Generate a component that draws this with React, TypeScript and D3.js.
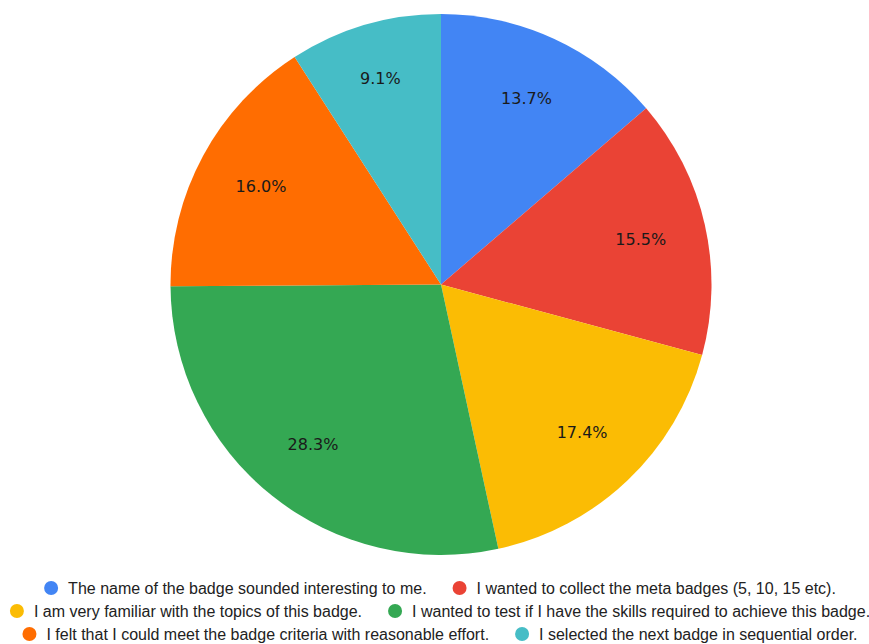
import React from "react";
import * as d3 from "d3";

const categories = [
  "The name of the badge sounded interesting to me.",
  "I wanted to collect the meta badges (5, 10, 15 etc).",
  "I am very familiar with the topics of this badge.",
  "I wanted to test if I have the skills required to achieve this badge.",
  "I felt that I could meet the badge criteria with reasonable effort.",
  "I selected the next badge in sequential order.",
];
const values = [13.7, 15.5, 17.4, 28.3, 16.0, 9.1];
const colors = ["#4285F4", "#EA4335", "#FBBC04", "#34A853", "#FF6D01", "#46BDC6"];
const legendRows = [[0, 1], [2, 3], [4, 5]];

const W = 869;
const H = 644;
const cx = 441;
const cy = 284.5;
const R = 270.5;
const legendFont = "16px 'Liberation Sans', Arial, sans-serif";

function measure(text: string, font: string): number {
  const c = document.createElement("canvas");
  const ctx = c.getContext("2d");
  if (!ctx) return text.length * 7;
  ctx.font = font;
  return ctx.measureText(text).width;
}

export default function App() {
  const pie = d3.pie<number>().sort(null).value((d) => d);
  const arcs = pie(values);
  const arc = d3.arc<d3.PieArcDatum<number>>().innerRadius(0).outerRadius(R);

  const rowYs = [588, 611, 634];
  const dot = 14;
  const gapDotText = 10;
  const gapItems = 26;

  return (
    <svg width={W} height={H} style={{ position: "absolute", left: 0, top: 0, background: "#fff" }}>
      <g transform={`translate(${cx},${cy})`}>
        {arcs.map((a, i) => (
          <path key={i} d={arc(a) || ""} fill={colors[i]} />
        ))}
        {arcs.map((a, i) => {
          const span = a.endAngle - a.startAngle;
          // narrow slices push their label outward to fit
          const lr = R * (span < 0.65 ? 0.795 : 0.757);
          const [x, y] = d3.arc<d3.PieArcDatum<number>>().innerRadius(lr).outerRadius(lr).centroid(a);
          return (
            <text
              key={"l" + i}
              x={x}
              y={y}
              textAnchor="middle"
              dominantBaseline="central"
              fontFamily="'DejaVu Sans', Verdana, sans-serif"
              fontSize={16}
              fill="#1a1a1a"
            >
              {d3.format(".1f")(a.data) + "%"}
            </text>
          );
        })}
      </g>
      {legendRows.map((row, ri) => {
        const widths = row.map((i) => dot + gapDotText + measure(categories[i], legendFont));
        const total = widths.reduce((s, w) => s + w, 0) + gapItems * (row.length - 1);
        let x = 440 - total / 2;
        const y = rowYs[ri];
        return (
          <g key={"r" + ri}>
            {row.map((i, k) => {
              const x0 = x;
              x += widths[k] + gapItems;
              return (
                <g key={i}>
                  <circle cx={x0 + dot / 2} cy={y} r={dot / 2} fill={colors[i]} />
                  <text
                    x={x0 + dot + gapDotText}
                    y={y}
                    dominantBaseline="central"
                    style={{ font: legendFont }}
                    fill="#222"
                  >
                    {categories[i]}
                  </text>
                </g>
              );
            })}
          </g>
        );
      })}
    </svg>
  );
}
